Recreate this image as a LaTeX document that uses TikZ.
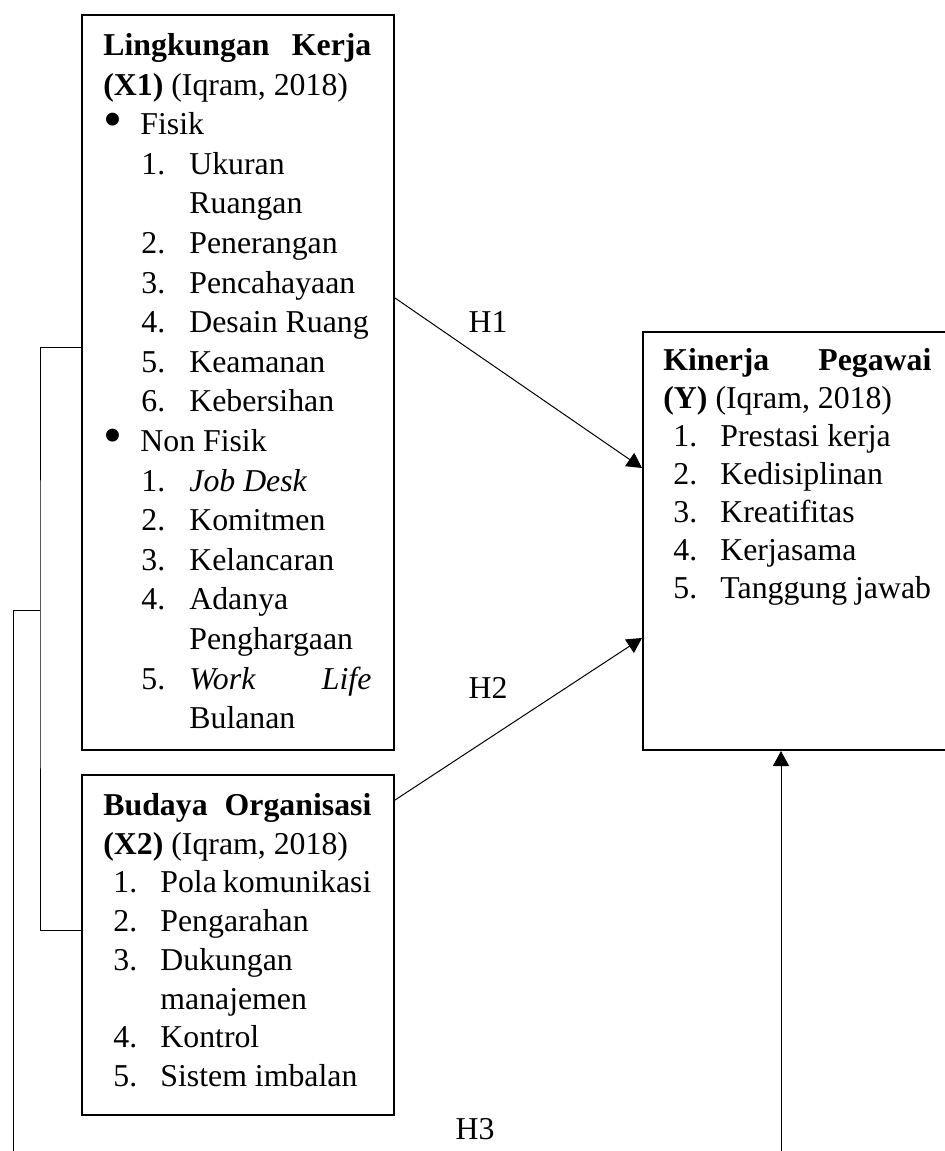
\documentclass[tikz,border=0pt]{standalone}
\usepackage{fontspec}
\setmainfont{Liberation Serif}
\usepackage{graphicx}
\usetikzlibrary{arrows.meta}
\newcommand{\bul}{\makebox[18.5pt][l]{\smash{\raisebox{-1.2pt}{\scalebox{1.7}{\textbullet}}}}}
\newcommand{\numA}[1]{\hspace*{19pt}\makebox[24pt][l]{#1}}
\newcommand{\contA}{\hspace*{43pt}}
\newcommand{\numB}[1]{\hspace*{5pt}\makebox[23.5pt][l]{#1}}
\newcommand{\contB}{\hspace*{28.5pt}}
\begin{document}
\begin{tikzpicture}[x=0.5pt,y=-0.5pt,
  box/.style={draw,line width=1pt,minimum width=156pt,inner sep=0pt,anchor=north west},
  txt/.style={inner sep=0pt,anchor=north west,text width=134pt,align=justify},
  conn/.style={line width=0.5pt},
  arr/.style={conn,-{Triangle[length=7.5pt,width=8pt]}},
  lbl/.style={inner sep=0pt,font=\fontsize{15.9pt}{19pt}\selectfont}]
\useasboundingbox (0,0) rectangle (945,1151);
\clip (0,0) rectangle (945,1151);
% boxes
\node[box,minimum height=367.5pt] (x1) at (81,14) {};
\node[box,minimum height=170pt] (x2) at (81,774) {};
\node[box,minimum height=209pt,minimum width=170pt] (y) at (642,331) {};
% texts
\node[txt,font=\fontsize{15.9pt}{19.8pt}\selectfont] (x1t) at (103,27.3) {%
\strut\textbf{Lingkungan}\hfill\textbf{Kerja}\\
\textbf{(X1)} (Iqram, 2018)\\
\bul Fisik\\
\numA{1.}Ukuran\\
\contA Ruangan\\
\numA{2.}Penerangan\\
\numA{3.}Pencahayaan\\
\numA{4.}Desain Ruang\\
\numA{5.}Keamanan\\
\numA{6.}Kebersihan\\
\bul Non Fisik\\
\numA{1.}\textit{Job Desk}\\
\numA{2.}Komitmen\\
\numA{3.}Kelancaran\\
\numA{4.}Adanya\\
\contA Penghargaan\\
\numA{5.}\textit{Work}\hfill\textit{Life}\\
\contA Bulanan};
\node[txt,font=\fontsize{15.9pt}{19.35pt}\selectfont] (x2t) at (103,788) {%
\strut\textbf{Budaya}\hfill\textbf{Organisasi}\\
\textbf{(X2)} (Iqram, 2018)\\
\numB{1.}Pola komunikasi\\
\numB{2.}Pengarahan\\
\numB{3.}Dukungan\\
\contB manajemen\\
\numB{4.}Kontrol\\
\numB{5.}Sistem imbalan};
\node[txt,font=\fontsize{15.9pt}{19pt}\selectfont] (yt) at (663,343.4) {%
\strut\textbf{Kinerja}\hfill\textbf{Pegawai}\\
\textbf{(Y)} (Iqram, 2018)\\
\numB{1.}Prestasi kerja\\
\numB{2.}Kedisiplinan\\
\numB{3.}Kreatifitas\\
\numB{4.}Kerjasama\\
\numB{5.}Tanggung jawab};
% labels
\node[lbl] (h1) at (488,322) {H1};
\node[lbl] (h2) at (488,688) {H2};
\node[lbl] (h3) at (475,1129) {H3};
% connectors
\draw[arr] (x1.east |- 0,298) -- (y.west |- 0,468);
\draw[arr] (x2.east |- 0,800) -- (y.west |- 0,638);
\coordinate (h3s) at (781,1151);
\draw[arr] (h3s) -- (y.south -| h3s);
\coordinate (bk) at (40,610);
\draw[conn] (x1.west |- 0,347) -| (bk) |- (x2.west |- 0,930);
\coordinate (ob) at (13,1151);
\draw[conn] (ob) |- (bk);
\end{tikzpicture}
\end{document}
